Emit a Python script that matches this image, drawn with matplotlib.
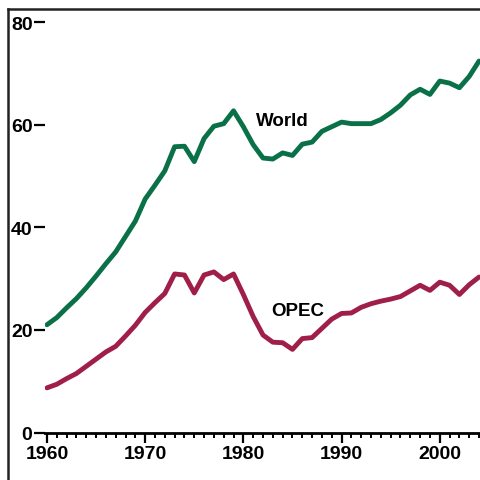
import matplotlib.pyplot as plt
import numpy as np
from matplotlib.lines import Line2D
from matplotlib.ticker import MultipleLocator

plt.rcParams['font.family'] = ['Liberation Sans', 'DejaVu Sans']
plt.rcParams['font.weight'] = 'bold'

years = np.arange(1960, 2005)
world = [21.0, 22.4, 24.3, 26.1, 28.2, 30.5, 32.9, 35.2, 38.2, 41.2,
         45.5, 48.2, 51.0, 55.7, 55.8, 52.8, 57.3, 59.7, 60.2, 62.7,
         59.6, 56.1, 53.5, 53.3, 54.5, 54.0, 56.2, 56.6, 58.7, 59.6,
         60.5, 60.2, 60.2, 60.2, 61.0, 62.3, 63.8, 65.8, 66.9, 65.9,
         68.5, 68.1, 67.2, 69.4, 72.4]
opec = [8.7, 9.4, 10.5, 11.5, 12.9, 14.3, 15.7, 16.8, 18.8, 20.9,
        23.4, 25.3, 27.1, 30.9, 30.7, 27.2, 30.7, 31.3, 29.8, 30.9,
        26.9, 22.6, 19.0, 17.6, 17.5, 16.2, 18.3, 18.5, 20.3, 22.1,
        23.2, 23.3, 24.4, 25.1, 25.6, 26.0, 26.5, 27.6, 28.7, 27.7,
        29.3, 28.7, 26.9, 28.8, 30.3]
yticks = [0, 20, 40, 60, 80]
xticks = [1960, 1970, 1980, 1990, 2000]

W = 481
fig = plt.figure(figsize=(4.81, 4.81), dpi=100)
ax = fig.add_axes([45 / W, 47.5 / W, 436 / W, 420.7 / W])

ax.plot(years, world, color='#0a7048', lw=3.5, solid_joinstyle='round',
        solid_capstyle='round')
ax.plot(years, opec, color='#a01f48', lw=3.5, solid_joinstyle='round',
        solid_capstyle='round')

ax.text(1984, 60.8, 'World', fontsize=13.5, fontweight='bold', ha='center', va='center')
ax.text(1985.5, 23.8, 'OPEC', fontsize=13.5, fontweight='bold', ha='center', va='center')

ax.set_xlim(1959.8, 2004.2)
ax.set_ylim(0, 82)
ax.set_xticks(xticks)
ax.set_yticks(yticks)
ax.xaxis.set_minor_locator(MultipleLocator(1))
ax.tick_params(axis='x', which='major', length=7, width=1.6, direction='out',
               labelsize=14, pad=2)
ax.tick_params(axis='x', which='minor', length=3.5, width=1.4, direction='out')
ax.tick_params(axis='y', length=8, width=1.6, direction='out', labelsize=14, pad=1)
for lab in ax.get_xticklabels() + ax.get_yticklabels():
    lab.set_fontweight('bold')

for s in ['left', 'top', 'right']:
    ax.spines[s].set_visible(False)
ax.spines['bottom'].set_linewidth(2)

# frame around the figure (left and top)
fig.add_artist(Line2D([8 / W, 8 / W], [0, 1 - 9.5 / W], color='#222222', lw=1.8,
                      transform=fig.transFigure))
fig.add_artist(Line2D([8 / W, 1], [1 - 9.5 / W, 1 - 9.5 / W], color='#222222', lw=1.8,
                      transform=fig.transFigure))

fig.savefig('out.png', dpi=100)
